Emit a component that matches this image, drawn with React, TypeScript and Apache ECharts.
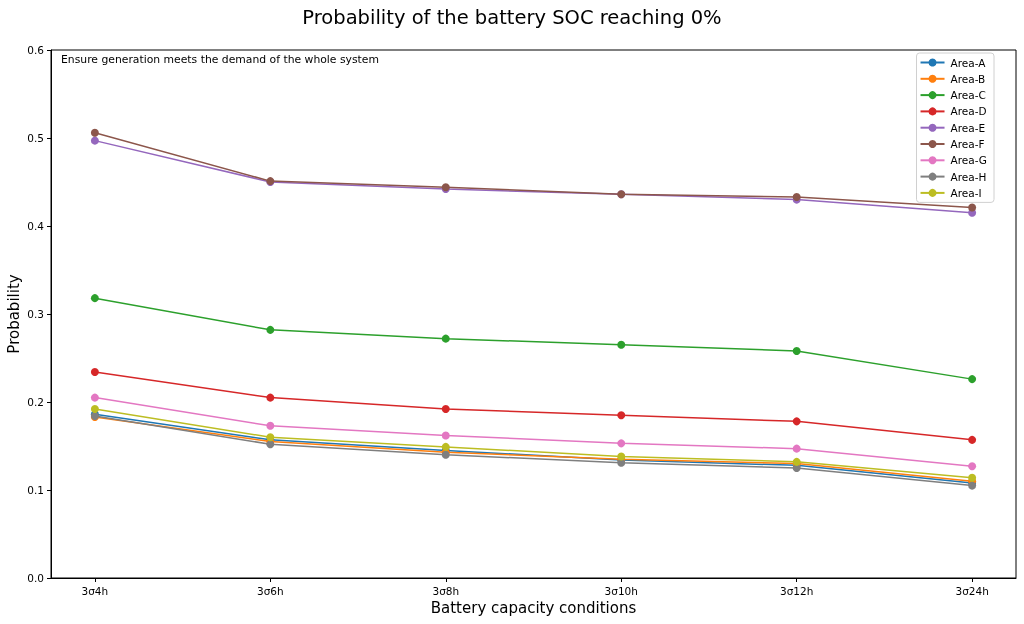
import React, { useEffect, useRef } from "react";
import * as echarts from "echarts";

const categories = ["3σ4h", "3σ6h", "3σ8h", "3σ10h", "3σ12h", "3σ24h"];
const seriesNames = ["Area-A", "Area-B", "Area-C", "Area-D", "Area-E", "Area-F", "Area-G", "Area-H", "Area-I"];
const areaA = [0.186, 0.157, 0.145, 0.134, 0.128, 0.108];
const areaB = [0.183, 0.155, 0.143, 0.135, 0.130, 0.110];
const areaC = [0.318, 0.282, 0.272, 0.265, 0.258, 0.226];
const areaD = [0.234, 0.205, 0.192, 0.185, 0.178, 0.157];
const areaE = [0.497, 0.450, 0.442, 0.436, 0.430, 0.415];
const areaF = [0.506, 0.451, 0.444, 0.436, 0.433, 0.421];
const areaG = [0.205, 0.173, 0.162, 0.153, 0.147, 0.127];
const areaH = [0.184, 0.152, 0.140, 0.131, 0.125, 0.105];
const areaI = [0.192, 0.160, 0.149, 0.138, 0.132, 0.114];
const seriesValues = [areaA, areaB, areaC, areaD, areaE, areaF, areaG, areaH, areaI];
const colors = ["#1f77b4", "#ff7f0e", "#2ca02c", "#d62728", "#9467bd", "#8c564b", "#e377c2", "#7f7f7f", "#bcbd22"];
const yTicks = [0, 0.1, 0.2, 0.3, 0.4, 0.5, 0.6];

const FONT = "DejaVu Sans";

export default function App() {
  const ref = useRef<HTMLDivElement>(null);
  useEffect(() => {
    if (!ref.current) return;
    const chart = echarts.init(ref.current, null, { renderer: "svg" });
    const xIdx = categories.map((_, i) => i);
    chart.setOption({
      animation: false,
      color: colors,
      textStyle: { fontFamily: FONT },
      title: {
        text: "Probability of the battery SOC reaching 0%",
        left: "center",
        top: 2,
        textStyle: { fontFamily: FONT, fontSize: 19.5, fontWeight: "normal", color: "#000" },
      },
      grid: {
        left: 51,
        right: 8,
        top: 50,
        bottom: 46,
        outerBoundsMode: "none",
        containLabel: false,
        show: true,
        borderColor: "#000",
        borderWidth: 1,
        backgroundColor: "transparent",
      },
      legend: {
        orient: "vertical",
        right: 30,
        top: 53,
        data: seriesNames,
        itemWidth: 24,
        itemHeight: 10,
        itemGap: 5.3,
        padding: [4, 7, 4, 3],
        borderColor: "#d0d0d0",
        borderWidth: 1,
        borderRadius: 3,
        backgroundColor: "rgba(255,255,255,0.8)",
        textStyle: { fontFamily: FONT, fontSize: 10.5, color: "#000", padding: [0, 0, 0, 1] },
      },
      xAxis: {
        type: "value",
        min: -0.25,
        max: 5.25,
        name: "Battery capacity conditions",
        nameLocation: "middle",
        nameGap: 22,
        nameTextStyle: { fontFamily: FONT, fontSize: 15, color: "#000" },
        splitLine: { show: false },
        axisLine: { show: true, onZero: false, lineStyle: { color: "#000" } },
        axisTick: { show: true, customValues: xIdx, length: 4, lineStyle: { color: "#000" } },
        axisLabel: {
          customValues: xIdx,
          formatter: (v: number) => categories[Math.round(v)] ?? "",
          fontFamily: FONT,
          fontSize: 10.5,
          color: "#000",
          margin: 7,
        },
      },
      yAxis: {
        type: "value",
        min: 0,
        max: 0.6,
        interval: 0.1,
        name: "Probability",
        nameLocation: "middle",
        nameGap: 30,
        nameMoveOverlap: false,
        nameTextStyle: { fontFamily: FONT, fontSize: 15, color: "#000" },
        splitLine: { show: false },
        axisLine: { show: true, onZero: false, lineStyle: { color: "#000" } },
        axisTick: { show: true, length: 4, lineStyle: { color: "#000" } },
        axisLabel: {
          customValues: yTicks,
          formatter: (v: number) => v.toFixed(1),
          fontFamily: FONT,
          fontSize: 10.5,
          color: "#000",
          margin: 7,
        },
      },
      graphic: [
        {
          type: "text",
          left: 61,
          top: 54,
          style: {
            text: "Ensure generation meets the demand of the whole system",
            fontFamily: FONT,
            fontSize: 10.8,
            fill: "#000",
          },
        },
      ],
      series: seriesNames.map((name, i) => ({
        name,
        type: "line",
        data: seriesValues[i].map((v, j) => [xIdx[j], v]),
        symbol: "circle",
        symbolSize: 8,
        lineStyle: { width: 1.5, color: colors[i] },
        itemStyle: { color: colors[i] },
        z: 2 + i,
      })),
    });
    return () => chart.dispose();
  }, []);
  return <div ref={ref} style={{ position: "fixed", left: 0, top: 0, width: 1024, height: 624 }} />;
}
